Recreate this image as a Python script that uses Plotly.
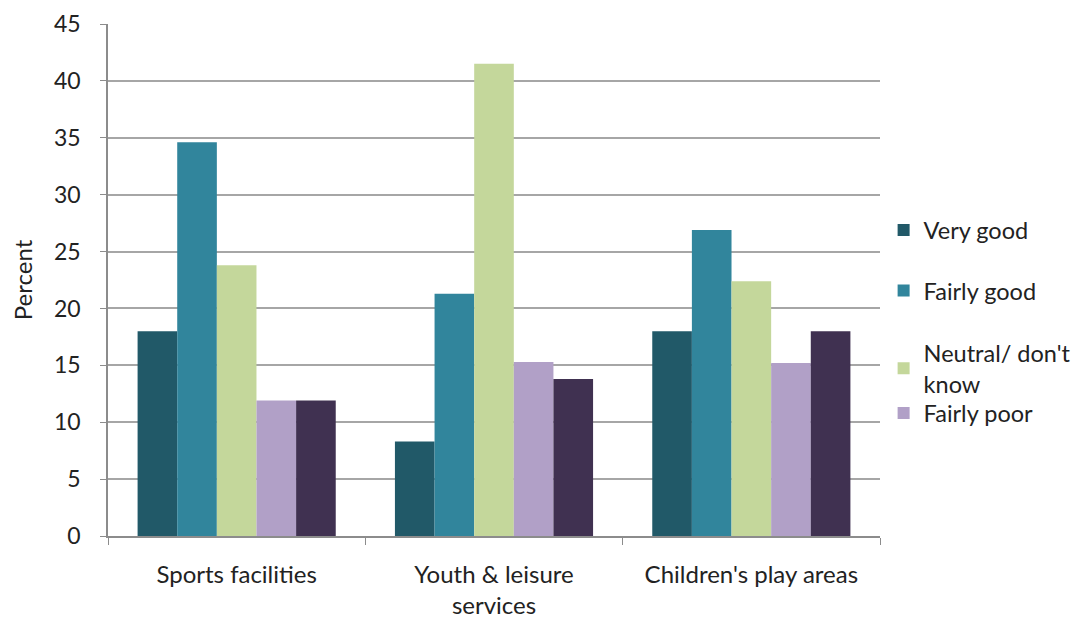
import plotly.graph_objects as go

categories = ["Sports facilities", "Youth & leisure<br>services", "Children's play areas"]
series_names = ["Very good", "Fairly good", "Neutral/ don't<br>know", "Fairly poor", "Very poor"]
very_good = [18.0, 8.3, 18.0]
fairly_good = [34.6, 21.3, 26.9]
neutral = [23.8, 41.5, 22.4]
fairly_poor = [11.9, 15.3, 15.2]
very_poor = [11.9, 13.8, 18.0]
colors = ["#215968", "#31859C", "#C4D79B", "#B1A0C7", "#403151"]
y_ticks = [0, 5, 10, 15, 20, 25, 30, 35, 40, 45]

FONT = "Lato, Open Sans, sans-serif"
values = [very_good, fairly_good, neutral, fairly_poor, very_poor]
legend_ids = ["legend", "legend2", "legend3", "legend4", None]
legend_y = [0.640, 0.522, 0.400, 0.283]

fig = go.Figure()
for name, vals, col, lid in zip(series_names, values, colors, legend_ids):
    kw = dict(legend=lid, showlegend=True) if lid else dict(showlegend=False)
    fig.add_trace(go.Bar(x=categories, y=vals, name=name,
                         marker=dict(color=col, line=dict(width=0)), **kw))

leg_common = dict(x=0.810, xref="container", xanchor="left", yanchor="top",
                  bgcolor="rgba(0,0,0,0)",
                  font=dict(family=FONT, size=23.5, color="#222"), itemwidth=30)
layout_legends = {}
for i, lid in enumerate(legend_ids[:4]):
    layout_legends[lid] = dict(y=legend_y[i], **leg_common)

fig.update_layout(
    width=1081, height=611,
    margin=dict(l=100, r=209, t=16, b=83, autoexpand=False),
    plot_bgcolor="white", paper_bgcolor="white",
    barmode="group", bargap=0.23, bargroupgap=0,
    font=dict(family=FONT, size=24, color="#222"),
    **layout_legends,
)
fig.update_yaxes(range=[0, 45], tickvals=y_ticks, showgrid=True, gridcolor="#a6a6a6", gridwidth=1.5,
                 showline=True, linecolor="#8c8c8c", linewidth=1.5, ticks="outside", ticklen=6,
                 tickcolor="#8c8c8c", zeroline=False, ticklabelstandoff=15,
                 ticklabeloverflow="allow", automargin=False,
                 title=dict(text="Percent", font=dict(size=24), standoff=22),
                 tickfont=dict(size=23))
fig.update_xaxes(showline=True, linecolor="#8c8c8c", linewidth=1.5, ticks="outside", ticklen=7,
                 tickcolor="#8c8c8c", tickson="boundaries", tickfont=dict(size=24),
                 ticklabelstandoff=16, automargin=False, ticklabeloverflow="allow")

fig.write_html("out.html")
